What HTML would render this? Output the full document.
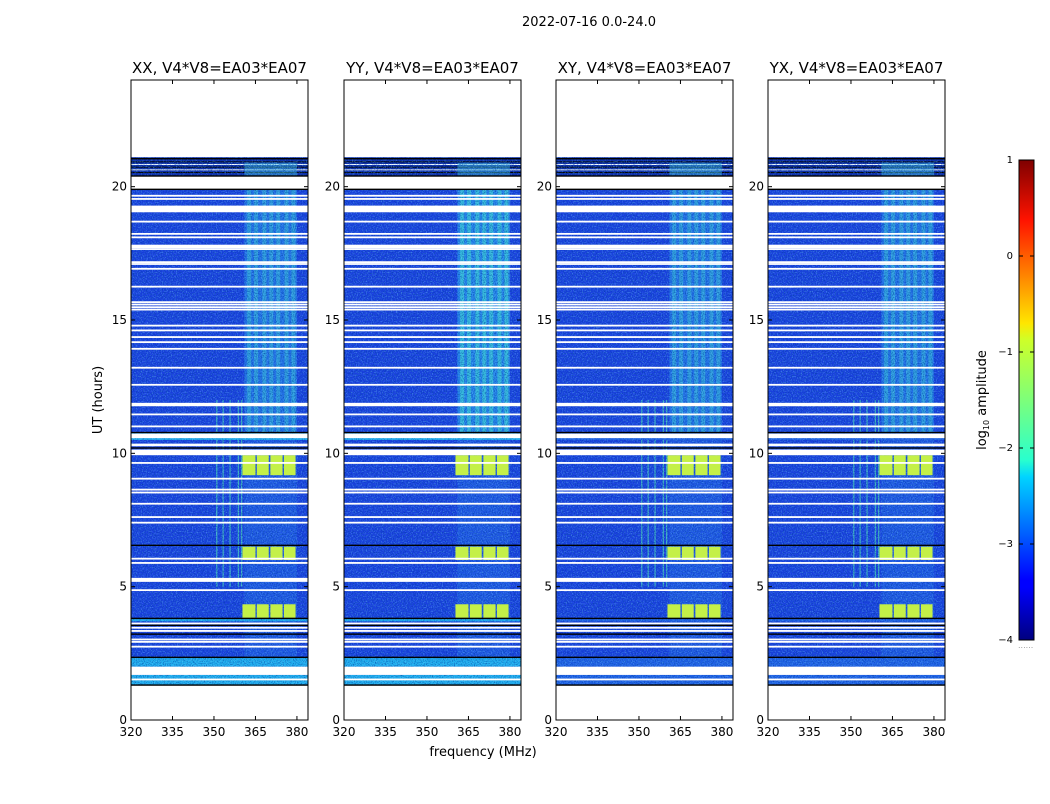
<!DOCTYPE html>
<html><head><meta charset="utf-8"><style>
body{margin:0;background:#fff;font-family:"DejaVu Sans","Liberation Sans",sans-serif}
svg text{font-family:"DejaVu Sans","Liberation Sans",sans-serif}
</style></head><body>
<svg id="fig" width="1050" height="800" viewBox="0 0 1050 800" xmlns="http://www.w3.org/2000/svg">
<defs>
<filter id="speck" x="0" y="0" width="1" height="1">
<feTurbulence type="fractalNoise" baseFrequency="0.9" numOctaves="1" seed="3"/>
<feColorMatrix type="matrix" values="0 0 0 0 0  0 0 0 0 0.05  0 0 0 0 0.35  0 0 0 2.2 -1.0"/>
</filter>
<filter id="speck2" x="0" y="0" width="1" height="1">
<feTurbulence type="fractalNoise" baseFrequency="0.8" numOctaves="1" seed="11"/>
<feColorMatrix type="matrix" values="0 0 0 0 0.2  0 0 0 0 0.7  0 0 0 0 1  0 0 0 2.2 -1.05"/>
</filter>
<linearGradient id="jet" x1="0" y1="1" x2="0" y2="0">
<stop offset="0" stop-color="#00007f"/><stop offset="0.11" stop-color="#0000ff"/>
<stop offset="0.125" stop-color="#0000ff"/><stop offset="0.34" stop-color="#00d4ff"/>
<stop offset="0.375" stop-color="#29ffce"/><stop offset="0.5" stop-color="#7dff7a"/>
<stop offset="0.625" stop-color="#ceff29"/><stop offset="0.66" stop-color="#ffe600"/>
<stop offset="0.875" stop-color="#ff1300"/><stop offset="1" stop-color="#7f0000"/>
</linearGradient>
</defs>
<text x="589" y="26" font-size="13" text-anchor="middle">2022-07-16 0.0-24.0</text>
<text transform="translate(102,400) rotate(-90)" font-size="13" text-anchor="middle">UT (hours)</text>
<text x="483" y="756" font-size="13" text-anchor="middle">frequency (MHz)</text>
<g id="panels"></g>
<g id="cbar">
<rect x="1019" y="160" width="15" height="480" fill="url(#jet)" stroke="#000" stroke-width="1"/>
<text transform="translate(986,400) rotate(-90)" font-size="13" text-anchor="middle">log<tspan font-size="8" dy="3">10</tspan><tspan dy="-3"> amplitude</tspan></text>
<text x="1018" y="648" font-size="8" fill="#999">......</text>
</g>
</svg>
<script>
const panelTitles=["XX, V4*V8=EA03*EA07","YY, V4*V8=EA03*EA07","XY, V4*V8=EA03*EA07","YX, V4*V8=EA03*EA07"];
const panelLefts=[131,344,556,768];
const xTicks=[320,335,350,365,380];
const yTicks=[0,5,10,15,20];
const cbarTicks=[1,0,-1,-2,-3,-4];
const whiteLines=[19.66,19.54,18.69,18.23,18.10,17.79,17.73,17.66,17.17,17.10,16.92,16.25,15.67,15.58,15.48,15.39,14.79,14.61,14.36,14.17,13.92,13.21,12.57,11.86,11.80,11.46,11.01,10.33,10.30,9.64,9.05,8.64,8.53,8.11,7.61,7.40,6.05,5.89,4.87,3.62,3.46,3.34,3.02,2.93,2.75,1.52];
const whiteGaps=[[19.04,19.29],[19.9,20.4],[10.57,10.74],[9.93,10.14],[5.18,5.33],[1.69,2.0]];
const blackLines=[20.4,19.9,10.78,10.2,6.55,3.81,3.55,3.22,2.35,1.31,21.05];
const cyanBands=[[10.5,10.8],[3.7,3.8],[2.0,2.35],[1.33,1.69]];
const bandIntensity=[0.3,0.5,0.3,0.3];
const streakFreqs=[362,364.5,367.5,370,372.5,375.5,378];
const blockRows=[[9.18,9.93],[6.0,6.5],[3.83,4.34]];
const blockCols=[[360.3,365],[365.5,369.8],[370.4,374.8],[375.3,379.5]];
const vLines=[350.8,353.1,355.6,358.6,359.8];
const fMin=320,fMax=384,hMin=0,hMax=24,dataTop=21.1,dataBot=1.31;
const W=177,T=80,B=720;
const NS="http://www.w3.org/2000/svg";
function mk(tag,attrs,parent){const e=document.createElementNS(NS,tag);for(const k in attrs)e.setAttribute(k,attrs[k]);parent.appendChild(e);return e;}
const root=document.getElementById('panels');
panelLefts.forEach((L,pi)=>{
  const xs=f=>L+(f-fMin)/(fMax-fMin)*W;
  const ys=h=>B-(h-hMin)/(hMax-hMin)*(B-T);
  const g=mk('g',{},root);
  
  
  const cp=mk('clipPath',{id:'cp'+pi},g);mk('rect',{x:L,y:T,width:W,height:B-T},cp);
  const d=mk('g',{'clip-path':'url(#cp'+pi+')'},g);
  const base=mk('rect',{x:L,y:ys(dataTop),width:W,height:ys(dataBot)-ys(dataTop),fill:'#1a40e0'},d);
  
  
  mk('rect',{x:L,y:ys(dataTop),width:W,height:ys(20.4)-ys(dataTop),fill:'#0c28a8'},d);
  [20.55,20.65,20.75,20.85,20.95].forEach((h,i)=>mk('rect',{x:L,y:ys(h),width:W,height:1,fill:(i%2)?'#fff':'#000'},d));
  const bi=bandIntensity[pi];
  const band=mk('rect',{x:xs(361),y:ys(20.4),width:xs(380)-xs(361),height:ys(10.8)-ys(20.4),fill:'#2aa0f0',opacity:bi+0.2},d);
  
  
  streakFreqs.forEach(f=>mk('rect',{x:xs(f),y:ys(20),width:4,height:ys(10.8)-ys(20),fill:'#40e0d0',opacity:bi+0.1},d));
  mk('rect',{x:xs(361),y:ys(10.8),width:xs(380)-xs(361),height:ys(1.33)-ys(10.8),fill:'#2a80ee',opacity:0.35},d);
  mk('rect',{x:xs(361),y:ys(20.9),width:xs(380)-xs(361),height:ys(20.4)-ys(20.9),fill:'#40c0e0',opacity:0.5},d);
  if(pi!==1) vLines.forEach(f=>{const v=mk('rect',{x:xs(f),y:ys(12),width:1.2,height:ys(5)-ys(12),fill:'#50e8b0',opacity:0.7},d);
    });
  cyanBands.forEach(c=>mk('rect',{x:L,y:ys(c[1]),width:W,height:ys(c[0])-ys(c[1]),fill:(pi<2?'#20b0f0':'#2060e8')},d));
  mk('rect',{x:L,y:ys(dataTop),width:W,height:ys(dataBot)-ys(dataTop),filter:'url(#speck)'},d);
  mk('rect',{x:L,y:ys(dataTop),width:W,height:ys(dataBot)-ys(dataTop),filter:'url(#speck2)',opacity:0.6},d);
  blockRows.forEach(r=>blockCols.forEach(c=>{
    const b=mk('rect',{x:xs(c[0]),y:ys(r[1]),width:xs(c[1])-xs(c[0]),height:ys(r[0])-ys(r[1]),fill:'#c4f048'},d);
    
  }));
  whiteGaps.forEach(gp=>{const w=mk('rect',{x:L,y:ys(gp[1]),width:W,height:ys(gp[0])-ys(gp[1]),fill:'#fff'},d);
    });
  whiteLines.forEach(h=>mk('rect',{x:L,y:ys(h)-0.9,width:W,height:1.8,fill:'#fff'},d));
  blackLines.forEach(h=>mk('rect',{x:L,y:ys(h)-0.7,width:W,height:1.4,fill:'#000'},d));
  const fr=mk('rect',{x:L,y:T,width:W,height:B-T,fill:'none',stroke:'#000','stroke-width':1},g);
  
  const t=mk('text',{x:L+W/2,y:T-7,'font-size':15,'text-anchor':'middle'},g);t.textContent=panelTitles[pi];
  
  xTicks.forEach(f=>{const x=xs(f);
    mk('line',{x1:x,x2:x,y1:B,y2:B-4,stroke:'#000'},g);mk('line',{x1:x,x2:x,y1:T,y2:T+4,stroke:'#000'},g);
    const tx=mk('text',{x:x,y:B+16,'font-size':12,'text-anchor':'middle'},g);tx.textContent=f;
    });
  yTicks.forEach(h=>{const y=ys(h);
    mk('line',{x1:L,x2:L+4,y1:y,y2:y,stroke:'#000'},g);mk('line',{x1:L+W,x2:L+W-4,y1:y,y2:y,stroke:'#000'},g);
    const ty=mk('text',{x:L-4,y:y+4,'font-size':12,'text-anchor':'end'},g);ty.textContent=h;
    });
});
const cb=document.getElementById('cbar');
cbarTicks.forEach(v=>{const y=160+(1-v)/5*480;
  mk('line',{x1:1034,x2:1030,y1:y,y2:y,stroke:'#000'},cb);mk('line',{x1:1019,x2:1023,y1:y,y2:y,stroke:'#000'},cb);
  const t=mk('text',{x:1013,y:y+3,'font-size':10,'text-anchor':'end'},cb);t.textContent=(v<0?'\u2212'+(-v):v);
  });
</script>
</body></html>
